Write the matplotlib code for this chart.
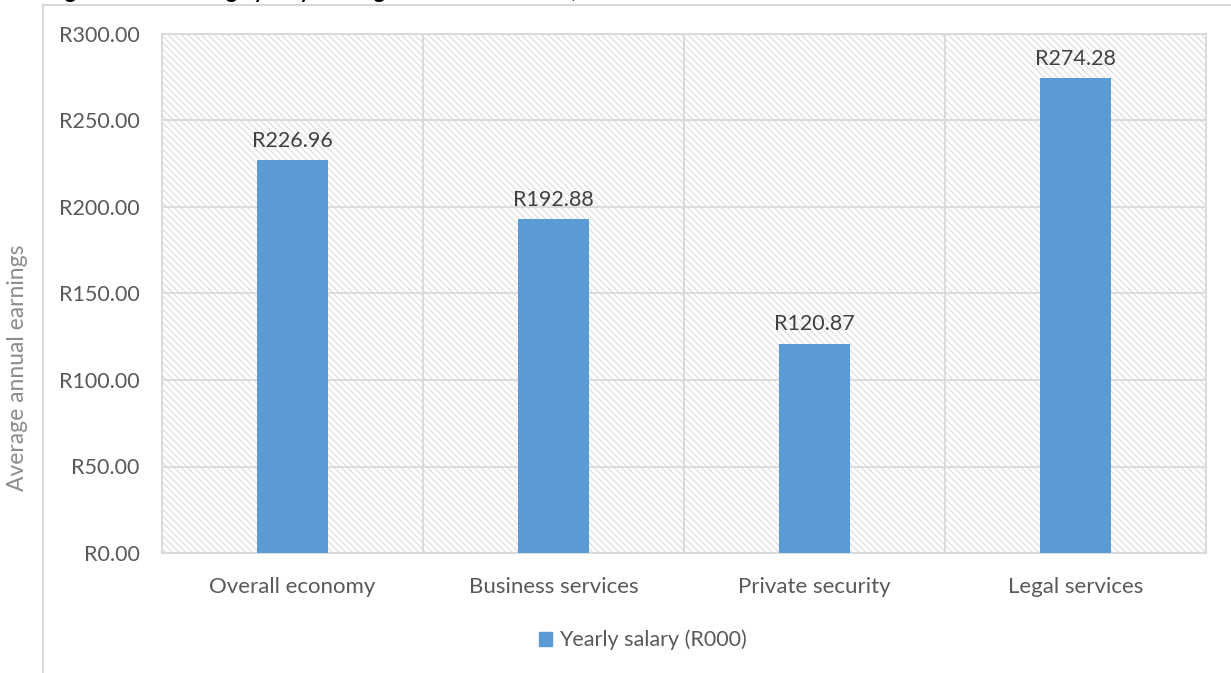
import matplotlib.pyplot as plt
from matplotlib.patches import Rectangle, Patch
from matplotlib.lines import Line2D
from matplotlib.ticker import FuncFormatter, MultipleLocator

categories = ["Overall economy", "Business services", "Private security", "Legal services"]
salary = [226.96, 192.88, 120.87, 274.28]
series_name = "Yearly salary (R000)"
title = "Figure 4: The average yearly earnings in selected sectors, 2019"

plt.rcParams['font.family'] = ['Lato', 'DejaVu Sans']
plt.rcParams['hatch.linewidth'] = 0.8

fig = plt.figure(figsize=(12.31, 6.73), dpi=100)
ax = fig.add_axes([162 / 1231, 1 - 553 / 673, (1206 - 162) / 1231, (553 - 34) / 673])

# hatched plot area
ax.set_facecolor('white')
ax.add_patch(Rectangle((0, 0), 1, 1, transform=ax.transAxes, facecolor='white',
                       edgecolor='#dadada', hatch='\\\\\\\\\\', linewidth=0, zorder=0))

x = range(len(categories))
bars = ax.bar(x, salary, width=0.27, color='#5b9bd5', zorder=3)
for b, v in zip(bars, salary):
    ax.annotate(f"R{v:.2f}", (b.get_x() + b.get_width() / 2, v), xytext=(0, 7),
                textcoords='offset points', ha='center', va='bottom',
                fontsize=15.5, color='#404040')

ax.set_xlim(-0.5, len(categories) - 0.5)
ax.set_ylim(0, 300)
ax.yaxis.set_major_locator(MultipleLocator(50))
ax.yaxis.set_major_formatter(FuncFormatter(lambda v, p: f"R{v:.2f}"))
ax.set_xticks(list(x))
ax.set_xticklabels(categories)
ax.tick_params(axis='both', length=0, labelsize=15.5, labelcolor='#595959')
ax.tick_params(axis='y', pad=16)
ax.tick_params(axis='x', pad=17)
for lbl in ax.get_xticklabels():
    lbl.set_fontsize(16)

ax.set_xticks([i + 0.5 for i in x][:-1], minor=True)
ax.grid(axis='y', which='major', color='#d9d9d9', linewidth=1.3, zorder=1)
ax.grid(axis='x', which='minor', color='#d9d9d9', linewidth=1.3, zorder=1)
ax.tick_params(axis='x', which='minor', length=0)
for s in ax.spines.values():
    s.set_color('#d9d9d9')
    s.set_linewidth(1.3)

fig.text(18 / 1231, 1 - 368 / 673, "Average annual earnings", rotation=90,
         ha='center', va='center', fontsize=16.5, color='#8c8c8c')

fig.legend(handles=[Patch(color='#5b9bd5', label=series_name)],
           loc='center', bbox_to_anchor=(643 / 1231, 1 - 640 / 673), frameon=False,
           fontsize=15.5, labelcolor='#595959', handlelength=0.6, handleheight=0.6,
           handletextpad=0.3)

# outer chart border
fig.add_artist(Line2D([43 / 1231, 43 / 1231], [0, 1 - 5 / 673], transform=fig.transFigure,
                      color='#d9d9d9', linewidth=1.5))
fig.add_artist(Line2D([43 / 1231, 1], [1 - 5 / 673, 1 - 5 / 673], transform=fig.transFigure,
                      color='#d9d9d9', linewidth=1.5))

# title sits above the chart and is clipped by the top edge, as in the source
fig.text(48 / 1231, 1 + 2 / 673, title, ha='left', va='baseline',
         fontsize=15, fontweight='bold', color='black')

fig.savefig('out.png', dpi=100)
